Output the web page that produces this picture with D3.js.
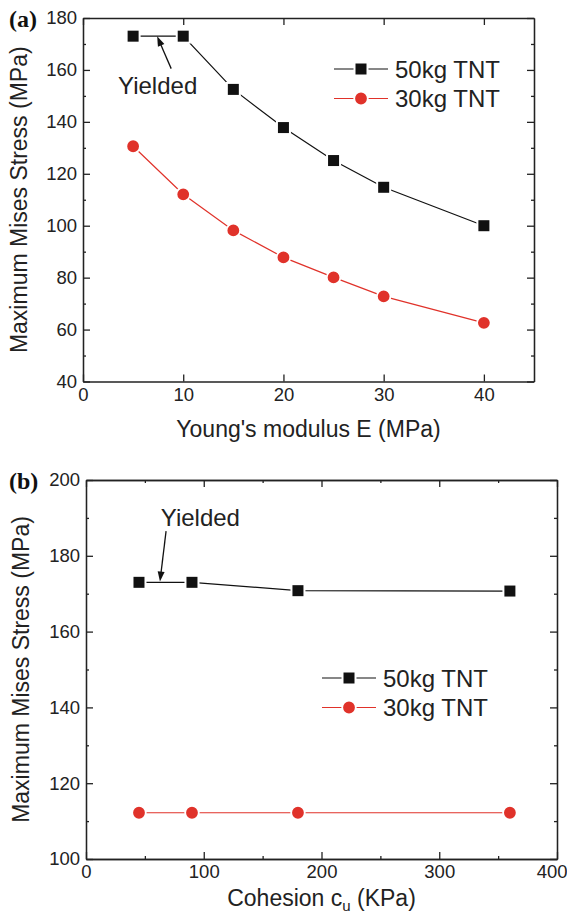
<!DOCTYPE html>
<html>
<head>
<meta charset="utf-8">
<script src="https://cdn.jsdelivr.net/npm/d3@7"></script>
<style>
  body { margin: 0; background: #fff; }
  svg { display: block; }
  .axis text { font-family: "Liberation Sans", Arial, sans-serif; font-size: 18.5px; fill: #222; }
  .axis path, .axis line { stroke: #222; stroke-width: 1.3; }
</style>
</head>
<body>
<div class="chart"></div>
<script>
// panel (a): Young's modulus
var youngE = [5, 10, 15, 20, 25, 30, 40];
var stressA50 = [173, 173, 152.5, 137.8, 125.1, 114.8, 100];
var stressA30 = [130.6, 112.1, 98.2, 87.8, 80.1, 72.8, 62.6];

// panel (b): cohesion
var cohesion = [45, 90, 180, 360];
var stressB50 = [173, 173, 170.8, 170.7];
var stressB30 = [112.2, 112.2, 112.2, 112.2];

var seriesNames = ["50kg TNT", "30kg TNT"];
var RED = "#e0322a", BLACK = "#111";

var svg = d3.select(".chart").append("svg")
  .attr("width", 567)
  .attr("height", 916);

function drawPanel(cfg) {
  var w = cfg.right - cfg.left, h = cfg.bottom - cfg.top;
  var g = svg.append("g").attr("transform", `translate(${cfg.left},${cfg.top})`);

  var x = d3.scaleLinear().domain(cfg.xDomain).range([0, w]);
  var y = d3.scaleLinear().domain(cfg.yDomain).range([h, 0]);

  // minor ticks first
  if (cfg.xMinor) {
    g.append("g").attr("class", "axis").attr("transform", `translate(0,${h})`)
      .call(d3.axisBottom(x).tickValues(cfg.xMinor).tickSize(-3).tickSizeOuter(0).tickFormat(""));
    g.append("g").attr("class", "axis")
      .call(d3.axisTop(x).tickValues(cfg.xMinor).tickSize(-3).tickSizeOuter(0).tickFormat(""));
  }
  g.append("g").attr("class", "axis")
    .call(d3.axisLeft(y).tickValues(cfg.yMinor).tickSize(-3).tickSizeOuter(0).tickFormat(""));
  g.append("g").attr("class", "axis").attr("transform", `translate(${w},0)`)
    .call(d3.axisRight(y).tickValues(cfg.yMinor).tickSize(-3).tickSizeOuter(0).tickFormat(""));

  // major ticks + labels
  var xAxis = g.append("g").attr("class", "axis").attr("transform", `translate(0,${h})`)
    .call(d3.axisBottom(x).tickValues(cfg.xTicks).tickSize(-7).tickSizeOuter(0).tickPadding(6));
  // last label sits against the page edge
  xAxis.selectAll(".tick text").filter(d => d === cfg.xDomain[1] && cfg.right > 550)
    .attr("text-anchor", "end").attr("dx", 10);
  g.append("g").attr("class", "axis")
    .call(d3.axisTop(x).tickValues(cfg.xTicks).tickSize(-7).tickSizeOuter(0).tickFormat(""));
  g.append("g").attr("class", "axis")
    .call(d3.axisLeft(y).tickValues(cfg.yTicks).tickSize(-7).tickSizeOuter(0).tickPadding(6));
  g.append("g").attr("class", "axis").attr("transform", `translate(${w},0)`)
    .call(d3.axisRight(y).tickValues(cfg.yTicks).tickSize(-7).tickSizeOuter(0).tickFormat(""));

  var line = d3.line().x(d => x(d[0])).y(d => y(d[1]));

  var series = [
    { vals: d3.zip(cfg.xs, cfg.s50), color: BLACK, shape: "square" },
    { vals: d3.zip(cfg.xs, cfg.s30), color: RED, shape: "circle" }
  ];

  series.forEach(function(s) {
    g.append("path")
      .datum(s.vals)
      .attr("fill", "none")
      .attr("stroke", s.color)
      .attr("stroke-width", 1.2)
      .attr("d", line);
  });

  function marker(sel, shape, color, cx, cy) {
    if (shape === "square") {
      sel.append("rect")
        .attr("x", cx - 6.5).attr("y", cy - 6.5)
        .attr("width", 13).attr("height", 13)
        .attr("fill", color).attr("stroke", "#fff").attr("stroke-width", 2);
    } else {
      sel.append("circle")
        .attr("cx", cx).attr("cy", cy).attr("r", 6.8)
        .attr("fill", color).attr("stroke", "#fff").attr("stroke-width", 1.8);
    }
  }

  series.forEach(function(s) {
    s.vals.forEach(function(d) {
      marker(g, s.shape, s.color, x(d[0]), y(d[1]));
    });
  });

  // legend
  var lg = g.append("g").attr("transform", `translate(${cfg.legend[0]},${cfg.legend[1]})`);
  series.forEach(function(s, i) {
    var yy = i * 29.5;
    lg.append("line").attr("x1", 0).attr("x2", 54).attr("y1", yy).attr("y2", yy)
      .attr("stroke", s.color).attr("stroke-width", 1.2);
    marker(lg, s.shape, s.color, 27, yy);
    lg.append("text")
      .attr("x", 61).attr("y", yy + 8.5)
      .attr("font-family", "Liberation Sans, Arial, sans-serif")
      .attr("font-size", "24px")
      .attr("fill", "#222")
      .text(seriesNames[i]);
  });

  // "Yielded" annotation
  var a = cfg.arrow;
  var x1 = x(a.from[0]), y1 = y(a.from[1]), x2 = x(a.to[0]), y2 = y(a.to[1]);
  var ang = Math.atan2(y2 - y1, x2 - x1);
  g.append("line").attr("x1", x1).attr("y1", y1)
    .attr("x2", x2 - 6 * Math.cos(ang)).attr("y2", y2 - 6 * Math.sin(ang))
    .attr("stroke", "#111").attr("stroke-width", 1.3);
  var hl = 10, hw = 3.5;
  var bx = x2 - hl * Math.cos(ang), by = y2 - hl * Math.sin(ang);
  g.append("path")
    .attr("d", `M${x2},${y2}L${bx + hw * Math.sin(ang)},${by - hw * Math.cos(ang)}L${bx - hw * Math.sin(ang)},${by + hw * Math.cos(ang)}Z`)
    .attr("fill", "#111");
  g.append("text")
    .attr("x", x(a.text[0])).attr("y", y(a.text[1]))
    .attr("font-family", "Liberation Sans, Arial, sans-serif")
    .attr("font-size", "24px")
    .attr("fill", "#222")
    .text("Yielded");

  // axis titles
  g.append("text")
    .attr("transform", "rotate(-90)")
    .attr("x", -h / 2)
    .attr("y", cfg.yTitleX - cfg.left)
    .attr("text-anchor", "middle")
    .attr("font-family", "Liberation Sans, Arial, sans-serif")
    .attr("font-size", "23px")
    .attr("fill", "#222")
    .text("Maximum Mises Stress (MPa)");

  var xt = g.append("text")
    .attr("x", w / 2)
    .attr("y", h + cfg.xTitleDy)
    .attr("text-anchor", "middle")
    .attr("font-family", "Liberation Sans, Arial, sans-serif")
    .attr("font-size", "23px")
    .attr("fill", "#222");
  cfg.xTitle(xt);

  // panel label
  svg.append("text")
    .attr("x", 9).attr("y", cfg.top + 9)
    .attr("font-family", "Liberation Serif, Times New Roman, serif")
    .attr("font-weight", "bold")
    .attr("font-size", "24px")
    .attr("fill", "#111")
    .text(cfg.label);
}

drawPanel({
  label: "(a)",
  left: 83, right: 534, top: 18, bottom: 381.5,
  xDomain: [0, 45], yDomain: [40, 180],
  xTicks: [0, 10, 20, 30, 40], xMinor: null,
  yTicks: [40, 60, 80, 100, 120, 140, 160, 180],
  yMinor: [50, 70, 90, 110, 130, 150, 170],
  xs: youngE, s50: stressA50, s30: stressA30,
  legend: [251, 51],
  arrow: { from: [8.8, 160.5], to: [7.4, 173], text: [3.5, 150.7] },
  yTitleX: 27,
  xTitleDy: 55,
  xTitle: function(t) { t.text("Young's modulus E (MPa)"); }
});

drawPanel({
  label: "(b)",
  left: 86, right: 557, top: 480, bottom: 859,
  xDomain: [0, 400], yDomain: [100, 200],
  xTicks: [0, 100, 200, 300, 400], xMinor: [50, 150, 250, 350],
  yTicks: [100, 120, 140, 160, 180, 200],
  yMinor: [110, 130, 150, 170, 190],
  xs: cohesion, s50: stressB50, s30: stressB30,
  legend: [236, 198],
  arrow: { from: [68, 186.5], to: [62.8, 173.2], text: [63.5, 187.9] },
  yTitleX: 29,
  xTitleDy: 47,
  xTitle: function(t) {
    t.append("tspan").text("Cohesion c");
    t.append("tspan").attr("font-size", "15px").attr("dy", 5).text("u");
    t.append("tspan").attr("dy", -5).text(" (KPa)");
  }
});
</script>
</body>
</html>
